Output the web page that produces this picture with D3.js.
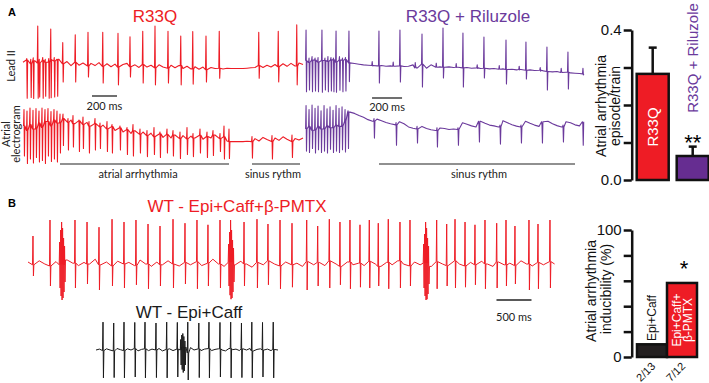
<!DOCTYPE html>
<html>
<head>
<meta charset="utf-8">
<script src="https://cdn.jsdelivr.net/npm/d3@7"></script>
<style>
  body { margin: 0; background: #fff; }
  svg { display: block; }
  text { font-family: "Liberation Sans", Arial, sans-serif; }
  .small { font-family: Lato, "Liberation Sans", sans-serif; font-size: 11px; }
</style>
</head>
<body>
<div class="container"></div>
<script>
// ---------------- data (time in ms, amplitude in normalised units) ----------------

// panel A, R33Q, lead II
const leadRedStep = 32;
const leadRedBase = [0.02,0.08,-0.02,0.06,0.0,0.07,0.02,0.09,0.05,0.1,
  -0.02,0.04,-0.07,0.02,-0.06,0.0,-0.08,-0.01,-0.07,0.01,
  -0.09,-0.02,-0.1,-0.03,-0.11,-0.04,-0.01,-0.1,-0.05,-0.12,
  -0.04,-0.11,-0.06,-0.13,-0.05,-0.11,-0.14,-0.06,-0.13,-0.07,
  -0.15,-0.09,-0.16,-0.1,-0.17,-0.11,-0.18,-0.12,-0.15,-0.14,
  -0.16,-0.14,-0.15,-0.15,-0.15,-0.15,-0.14,-0.13,-0.12,-0.07,
  -0.12,-0.06,-0.11,-0.04,-0.1,-0.02,-0.09,-0.01,-0.08,0.0,-0.04];
// [time, top, bottom]
const leadRedSpikes = [[30,0.12,-0.95],[62,0.1,-0.93],[82,0.14,-0.96],[118,1.0,-0.95],[130,0.1,-0.92],
  [158,0.15,-0.95],[178,0.1,-0.9],[206,0.12,-0.95],[222,0.92,-0.94],[250,0.15,-0.92],[274,0.1,-0.9],
  [318,0.55,-0.51],[418,0.76,-0.51],[520,0.83,-0.38],[638,0.83,-0.54],[760,0.8,-0.59],[856,0.71,-0.38],
  [958,0.86,-0.54],[1056,1.0,-0.59],[1160,0.86,-0.54],[1262,0.73,-0.59],[1358,0.85,-0.57],[1464,0.73,-0.51],
  [1570,0.86,-0.41],[1886,0.83,-0.41],[2042,0.86,-0.51],[2190,1.03,-0.59]];

// panel A, R33Q, atrial electrogram
const egmRedStep = 32;
const egmRedBase = [0.3,0.15,0.35,0.2,0.4,0.25,0.45,0.3,0.5,0.4,
  0.55,0.42,0.5,0.38,0.47,0.35,0.42,0.3,0.38,0.27,
  0.33,0.2,0.28,0.15,0.24,0.1,0.18,0.05,0.14,0.02,
  0.1,-0.02,0.06,-0.06,0.04,-0.08,0.02,-0.1,0.0,-0.12,
  -0.02,-0.13,-0.04,-0.1,-0.01,-0.14,-0.05,-0.1,0.0,-0.12,
  -0.06,-0.2,-0.22,-0.22,-0.22,-0.22,-0.21,-0.22,-0.12,-0.2,
  -0.08,-0.15,-0.22,-0.1,-0.18,-0.06,-0.14,-0.22,-0.12,-0.17,-0.1];
const egmRedSpikes = [[8,0.85,-0.7],[32,0.8,-0.95],[56,0.9,-0.8],[80,0.82,-0.93],[104,0.88,-0.75],
  [128,0.8,-0.9],[152,0.9,-0.85],[176,0.85,-0.95],[200,0.88,-0.7],[224,0.78,-0.88],[248,0.85,-0.8],
  [272,0.8,-0.9],[296,0.7,-0.6],
  [320,0.7,-0.35],[360,0.55,-0.5],[400,0.65,-0.4],[448,0.5,-0.55],[480,0.6,-0.45],[528,0.45,-0.6],
  [576,0.55,-0.5],[616,0.4,-0.45],[672,0.45,-0.55],[712,0.35,-0.6],[776,0.3,-0.5],[832,0.25,-0.65],
  [880,0.35,-0.7],[936,0.2,-0.6],[992,0.15,-0.72],[1048,0.25,-0.65],[1096,0.1,-0.75],[1152,0.2,-0.6],
  [1200,0.15,-0.7],[1256,0.1,-0.78],[1312,0.25,-0.65],[1360,0.05,-0.72],[1416,0.2,-0.6],[1472,0.1,-0.75],
  [1520,0.15,-0.68],[1576,0.05,-0.55],[1608,0.3,-0.8],[1648,0.2,-0.78],
  [1832,-0.05,-0.77],[1992,-0.02,-0.8],[2152,0.0,-0.75]];

// panel A, R33Q + Riluzole, lead II
const leadPurStep = 30;
const leadPurBase = [0.02,-0.03,0.04,-0.02,0.03,0.0,0.05,-0.02,0.04,0.06,
  -0.04,-0.06,-0.08,-0.1,-0.11,-0.12,-0.13,-0.12,-0.14,-0.13,
  -0.14,-0.13,-0.15,-0.14,-0.1,-0.19,-0.08,-0.2,-0.1,-0.17,
  -0.16,-0.17,-0.16,-0.18,-0.17,-0.19,-0.18,-0.2,-0.19,-0.21,
  -0.2,-0.22,-0.21,-0.23,-0.22,-0.24,-0.23,-0.25,-0.24,-0.26,
  -0.25,-0.27,-0.26,-0.28,-0.3,-0.31,-0.3,-0.33,-0.32,-0.34,
  -0.35,-0.36,-0.37];
const leadPurSpikes = [[7,0.94,-0.9],[27,0.1,-0.85],[47,0.15,-0.9],[67,0.1,-0.88],[87,0.12,-0.9],
  [113,0.94,-0.92],[133,0.1,-0.85],[153,0.15,-0.9],[173,0.12,-0.88],[190,0.1,-0.9],[207,0.91,-0.92],
  [230,0.15,-0.86],[250,0.1,-0.9],[270,0.12,-0.88],[293,0.91,-0.6],
  [448,0.0,-0.13],[493,0.91,-0.64],[588,-0.02,-0.14],[633,0.94,-0.61],[735,-0.03,-0.15],[780,0.82,-0.76],
  [875,-0.05,-0.17],[920,1.0,-0.49],[1008,-0.06,-0.18],[1053,0.85,-0.76],[1148,-0.1,-0.21],[1193,0.73,-0.49],
  [1295,-0.12,-0.23],[1340,0.64,-0.67],[1428,-0.14,-0.25],[1473,0.58,-0.52],[1568,-0.18,-0.29],
  [1613,0.43,-0.85],[1708,-0.2,-0.31],[1753,0.28,-0.82],[1853,-0.2,-0.4]];

// panel A, R33Q + Riluzole, atrial electrogram
const egmPurStep = 30;
const egmPurBase = [0.0,0.1,-0.05,0.1,0.0,0.12,0.05,0.15,0.1,0.3,
  0.65,0.6,0.52,0.45,0.36,0.3,0.38,0.32,0.25,0.2,
  0.16,0.28,0.2,0.08,0.03,0.0,0.1,0.02,-0.03,-0.06,
  0.04,0.02,-0.02,0.0,-0.02,0.24,0.18,0.12,0.08,0.3,
  0.22,0.15,0.12,0.08,0.32,0.24,0.16,0.11,0.08,0.3,
  0.22,0.15,0.1,0.28,0.3,0.2,0.13,0.08,0.28,0.24,
  0.16,0.12,0.28];
const egmPurSpikes = [[7,0.9,-0.85],[27,0.75,-0.9],[47,0.92,-0.75],[67,0.8,-0.92],[87,0.88,-0.8],
  [107,0.7,-0.9],[127,0.9,-0.85],[147,0.78,-0.92],[167,0.85,-0.78],[187,0.72,-0.9],[207,0.9,-0.85],
  [227,0.8,-0.9],[247,0.85,-0.8],[267,0.75,-0.88],[287,0.7,-0.75],
  [460,0.4,-0.35],[607,0.25,-0.62],[747,0.1,-0.54],[880,0.05,-0.69],[1020,0.05,-0.62],[1160,0.15,-0.5],
  [1300,0.15,-0.58],[1440,0.15,-0.54],[1580,0.15,-0.54],[1720,0.15,-0.5],[1852,0.2,-0.62]];

// panel B, WT - Epi+Caff+β-PMTX
const bRedStep = 80;
const bRedBase = [-0.05,-0.12,-0.02,-0.1,-0.15,-0.04,-0.12,0.0,-0.08,-0.14,
  -0.06,-0.1,0.02,-0.12,-0.05,-0.15,-0.03,-0.1,-0.06,-0.14,
  0.0,-0.1,-0.16,-0.05,-0.12,-0.02,-0.1,-0.15,-0.06,-0.12,
  -0.04,-0.14,-0.08,0.02,-0.1,-0.16,-0.06,-0.12,-0.03,-0.1,
  -0.18,-0.06,-0.12,-0.02,-0.1,-0.15,-0.05,-0.12,-0.08,-0.16,
  -0.04,-0.12,-0.06,-0.14,-0.02,-0.1,-0.16,-0.05,-0.12,-0.08,
  -0.14,-0.03,-0.1,-0.16,-0.06,-0.12,-0.02,-0.1,-0.15,-0.05,
  -0.12,-0.08,-0.16,-0.04,-0.1,-0.14,-0.02,-0.1,-0.15,-0.06,
  -0.12,-0.03,-0.1,-0.16,-0.05,-0.12,-0.08,-0.14,-0.02,-0.1,
  -0.15,-0.06,-0.12,-0.04,-0.1];
const bRedSpikes = [[71,0.6,-0.4],[314,1.0,-0.65],
  [452,0.45,-0.7],[466,0.75,-0.9],[480,0.95,-1.0],[494,0.8,-0.95],[508,0.55,-0.8],[522,0.35,-0.55],
  [671,1.0,-0.7],[843,0.95,-0.6],[1014,0.82,-0.75],[1200,1.02,-0.65],[1371,0.95,-0.7],[1542,1.0,-0.62],
  [1714,0.9,-0.72],[1885,0.85,-0.65],[2071,1.02,-0.7],[2242,0.92,-0.6],[2413,1.0,-0.72],[2570,0.88,-0.65],
  [2742,1.0,-0.7],
  [2865,0.4,-0.65],[2879,0.7,-0.88],[2893,1.0,-0.98],[2907,0.75,-0.95],[2921,0.5,-0.8],[2935,0.3,-0.55],
  [3085,0.95,-0.65],[3270,1.02,-0.7],[3427,0.9,-0.62],[3599,1.0,-0.72],[3770,0.92,-0.68],[3980,1.0,-0.75],
  [4137,0.85,-0.65],[4303,1.02,-0.7],[4455,0.95,-0.62],[4598,1.0,-0.72],[4741,0.88,-0.68],[4874,1.0,-0.7],
  [5002,0.92,-0.65],[5145,1.02,-0.72],[5312,0.95,-0.7],[5455,1.0,-0.65],
  [5650,0.4,-0.7],[5664,0.65,-0.9],[5678,0.95,-1.0],[5692,0.8,-0.98],[5706,0.55,-0.85],[5720,0.35,-0.6],
  [5836,1.0,-0.72],[5979,0.9,-0.65],[6098,1.02,-0.7],[6241,0.95,-0.68],[6383,0.88,-0.62],[6526,1.0,-0.72],
  [6693,0.92,-0.7],[6826,1.0,-0.65],[6954,0.85,-0.6],[7154,1.0,-0.75],[7283,0.9,-0.72],[7454,1.0,-0.7]];

// panel B, WT - Epi+Caff
const bBlackStep = 50;
const bBlackBase = [0.0,0.03,-0.02,0.04,0.0,-0.03,0.05,0.01,-0.02,0.04,
  0.0,0.05,-0.03,0.02,0.04,-0.02,0.03,0.0,0.05,-0.03,
  0.02,0.04,-0.02,0.03,0.0,0.1,-0.1,0.08,0.0,0.04,
  -0.02,0.03,0.05,-0.02,0.02,0.04,0.0,-0.03,0.05,0.01,
  0.03,-0.02,0.04,0.0,0.05,-0.03,0.02,0.04,0.0,0.03,
  -0.02,0.02,0.0];
const bBlackSpikes = [[100,0.93,-0.93],[253,0.9,-0.92],[400,0.93,-0.93],[554,0.92,-0.9],[700,0.93,-0.93],
  [857,0.9,-0.92],[1010,0.93,-0.93],[1162,0.92,-0.9],
  [1210,0.35,-0.5],[1225,0.5,-0.65],[1240,0.55,-0.75],[1255,0.45,-0.7],[1270,0.3,-0.5],
  [1311,0.93,-1.0],[1469,0.9,-0.92],[1614,0.93,-0.93],[1771,0.92,-0.9],[1924,0.93,-0.93],
  [2078,0.9,-0.92],[2226,0.93,-0.93],[2379,0.92,-0.9],[2532,0.93,-0.93]];

// bar charts
const barACats = ["R33Q", "R33Q + Riluzole"];
const barAValues = [0.283, 0.064];
const barAErrors = [0.07, 0.025];
const barATicks = [0, 0.1, 0.2, 0.3, 0.4];

const barBCats = ["Epi+Caff", "Epi+Caff+β-PMTX"];
const barBValues = [10, 58.3];
const barBCounts = ["2/13", "7/12"];
const barBTicks = [0, 20, 40, 60, 80, 100];

// ---------------- drawing ----------------
const width = 709;
const height = 383;
const red = "#ee1c25";
const purple = "#6b3a9c";

const svg = d3.select(".container")
  .append("svg")
  .attr("width", width)
  .attr("height", height);

// builds one trace path from baseline samples plus vertical spikes
function tracePath(base, step, spikes, x, y) {
  const half = (x.domain()[1] - x.domain()[0]) / (x.range()[1] - x.range()[0]) * 0.45;
  const pts = base.map((v, i) => [i * step, v])
    .filter(p => !spikes.some(s => Math.abs(s[0] - p[0]) < half * 3));
  spikes.forEach(s => {
    const b = base[Math.min(base.length - 1, Math.round(s[0] / step))];
    pts.push([s[0] - half, b], [s[0], s[1]], [s[0] + half, s[2]], [s[0] + 2 * half, b]);
  });
  pts.sort((a, b) => a[0] - b[0]);
  return d3.line().x(d => x(d[0])).y(d => y(d[1]))(pts);
}

function drawTrace(base, step, spikes, x, y, color, sw) {
  svg.append("path")
    .attr("d", tracePath(base, step, spikes, x, y))
    .attr("fill", "none")
    .attr("stroke", color)
    .attr("stroke-width", sw || 1.1)
    .attr("stroke-linejoin", "round");
}

// scale bar helper: length in ms drawn with the trace's own x scale
function scaleBar(x, t0, ms, yPos, label, labelY) {
  svg.append("line")
    .attr("x1", x(t0)).attr("x2", x(t0 + ms))
    .attr("y1", yPos).attr("y2", yPos)
    .attr("stroke", "#222").attr("stroke-width", 1.3);
  svg.append("text").attr("class", "small")
    .attr("x", (x(t0) + x(t0 + ms)) / 2).attr("y", labelY)
    .attr("text-anchor", "middle").attr("fill", "#222")
    .text(label);
}

function rotText(x, y, txt, size, color, anchor) {
  return svg.append("text")
    .attr("transform", `translate(${x},${y}) rotate(-90)`)
    .attr("text-anchor", anchor || "middle")
    .attr("font-size", size)
    .attr("fill", color)
    .text(txt);
}

// ---- panel A traces ----
const xRed = d3.scaleLinear().domain([0, 2240]).range([23, 303]);
const xPur = d3.scaleLinear().domain([0, 1860]).range([305, 584]);
const yLeadRed = d3.scaleLinear().domain([-1, 1]).range([100, 26]);
const yEgmRed = d3.scaleLinear().domain([-1, 1]).range([165, 105]);
const yLeadPur = d3.scaleLinear().domain([-1, 1]).range([95, 28]);
const yEgmPur = d3.scaleLinear().domain([-1, 1]).range([155, 103]);

drawTrace(leadRedBase, leadRedStep, leadRedSpikes, xRed, yLeadRed, red);
drawTrace(egmRedBase, egmRedStep, egmRedSpikes, xRed, yEgmRed, red);
drawTrace(leadPurBase, leadPurStep, leadPurSpikes, xPur, yLeadPur, purple);
drawTrace(egmPurBase, egmPurStep, egmPurSpikes, xPur, yEgmPur, purple);

svg.append("text").attr("x", 8).attr("y", 16).attr("font-size", 11).attr("font-weight", "bold").text("A");
svg.append("text").attr("x", 155).attr("y", 22).attr("font-size", 17).attr("fill", red)
  .attr("text-anchor", "middle").text("R33Q");
svg.append("text").attr("x", 468).attr("y", 22).attr("font-size", 17).attr("fill", purple)
  .attr("text-anchor", "middle").text("R33Q + Riluzole");

rotText(15, 66, "Lead II", 11, "#222").attr("class", "small");
rotText(10, 134, "Atrial", 11, "#222").attr("class", "small");
rotText(20, 134, "electrogram", 11, "#222").attr("class", "small");

scaleBar(xRed, 552, 200, 96, "200 ms", 110);
scaleBar(xPur, 447, 200, 98, "200 ms", 111);

// rhythm annotations
function annot(x1, x2, label, lx) {
  svg.append("line").attr("x1", x1).attr("x2", x2).attr("y1", 164).attr("y2", 164)
    .attr("stroke", "#222").attr("stroke-width", 1.2);
  svg.append("text").attr("class", "small").attr("x", lx).attr("y", 178)
    .attr("text-anchor", "middle").attr("fill", "#222").text(label);
}
annot(xRed(296), xRed(1648), "atrial arrhythmia", 138);
annot(xRed(1832), xRed(2216), "sinus rythm", 273);
annot(xPur(493), xPur(1800), "sinus rythm", 479);

// ---- panel A bar chart ----
const xA = d3.scaleBand().domain(barACats).range([636.7, 708.7]).paddingInner(0.2).paddingOuter(0);
const yA = d3.scaleLinear().domain([0, 0.4]).range([180, 30]);

svg.append("g")
  .attr("transform", "translate(631.7,0)")
  .call(d3.axisLeft(yA).tickValues(barATicks).tickSize(8).tickSizeOuter(0).tickPadding(2)
    .tickFormat(d => (d === 0 || d === 0.4) ? d3.format(".1f")(d) : ""))
  .call(g => g.selectAll("path,line").attr("stroke", "#111").attr("stroke-width", 2.5))
  .call(g => g.selectAll("text").attr("font-size", 15).attr("fill", "#111")
    .attr("font-family", "Liberation Sans, Arial, sans-serif"));

svg.append("g").selectAll("line.err")
  .data(barACats).join("line")
  .attr("x1", d => xA(d) + xA.bandwidth() / 2).attr("x2", d => xA(d) + xA.bandwidth() / 2)
  .attr("y1", (d, i) => yA(barAValues[i])).attr("y2", (d, i) => yA(barAValues[i] + barAErrors[i]))
  .attr("stroke", "#111").attr("stroke-width", 2.5);
svg.append("g").selectAll("line.cap")
  .data(barACats).join("line")
  .attr("x1", d => xA(d) + xA.bandwidth() / 2 - 4).attr("x2", d => xA(d) + xA.bandwidth() / 2 + 4)
  .attr("y1", (d, i) => yA(barAValues[i] + barAErrors[i])).attr("y2", (d, i) => yA(barAValues[i] + barAErrors[i]))
  .attr("stroke", "#111").attr("stroke-width", 2.5);
svg.append("g").selectAll("rect")
  .data(barACats).join("rect")
  .attr("x", d => xA(d)).attr("width", xA.bandwidth())
  .attr("y", (d, i) => yA(barAValues[i])).attr("height", (d, i) => yA(0) - yA(barAValues[i]))
  .attr("fill", (d, i) => i === 0 ? red : "#662d91")
  .attr("stroke", "#111").attr("stroke-width", 2.5);

rotText(xA(barACats[0]) + xA.bandwidth() / 2 + 5, 127, "R33Q", 15, "#fff");
rotText(xA(barACats[1]) + xA.bandwidth() / 2 + 5, 58, "R33Q + Riluzole", 15, purple);
svg.append("text").attr("x", xA(barACats[1]) + xA.bandwidth() / 2).attr("y", 150)
  .attr("text-anchor", "middle").attr("font-size", 22).text("**");
rotText(606, 106, "Atrial arrhythmia", 14, "#111");
rotText(620, 106, "episode/train", 14, "#111");

// ---- panel B traces ----
const xB = d3.scaleLinear().domain([0, 7540]).range([28, 556]);
const yB = d3.scaleLinear().domain([-1, 1]).range([300, 220]);
const xBk = d3.scaleLinear().domain([0, 2600]).range([96, 278]);
const yBk = d3.scaleLinear().domain([-1, 1]).range([380, 320]);

drawTrace(bRedBase, bRedStep, bRedSpikes, xB, yB, red, 1);
drawTrace(bBlackBase, bBlackStep, bBlackSpikes, xBk, yBk, "#1a1a1a", 1);

svg.append("text").attr("x", 8).attr("y", 207).attr("font-size", 11).attr("font-weight", "bold").text("B");
svg.append("text").attr("x", 237).attr("y", 212).attr("font-size", 17).attr("fill", red)
  .attr("text-anchor", "middle").text("WT - Epi+Caff+β-PMTX");
svg.append("text").attr("x", 189).attr("y", 318).attr("font-size", 17).attr("fill", "#1a1a1a")
  .attr("text-anchor", "middle").text("WT - Epi+Caff");
scaleBar(xB, 6690, 500, 300, "500 ms", 321);

// ---- panel B bar chart ----
const xBb = d3.scaleBand().domain(barBCats).range([637, 697]).paddingInner(0).paddingOuter(0);
const yBb = d3.scaleLinear().domain([0, 100]).range([357, 230]);

svg.append("g")
  .attr("transform", "translate(631.7,0)")
  .call(d3.axisLeft(yBb).tickValues(barBTicks).tickSize(8).tickSizeOuter(0).tickPadding(2)
    .tickFormat(d => (d === 0 || d === 100) ? d : ""))
  .call(g => g.selectAll("path,line").attr("stroke", "#111").attr("stroke-width", 2.5))
  .call(g => g.selectAll("text").attr("font-size", 15).attr("fill", "#111")
    .attr("font-family", "Liberation Sans, Arial, sans-serif"));

svg.append("g").selectAll("rect")
  .data(barBCats).join("rect")
  .attr("x", d => xBb(d)).attr("width", xBb.bandwidth())
  .attr("y", (d, i) => yBb(barBValues[i])).attr("height", (d, i) => yBb(0) - yBb(barBValues[i]))
  .attr("fill", (d, i) => i === 0 ? "#231f20" : red)
  .attr("stroke", "#111").attr("stroke-width", 2.5);

rotText(xBb(barBCats[0]) + xBb.bandwidth() / 2 + 4, 318, "Epi+Caff", 12, "#111");
rotText(xBb(barBCats[1]) + xBb.bandwidth() / 2 - 1, 320, "Epi+Caff+", 12, "#fff");
rotText(xBb(barBCats[1]) + xBb.bandwidth() / 2 + 10, 320, "β-PMTX", 12, "#fff");
svg.append("text").attr("x", xBb(barBCats[1]) + xBb.bandwidth() / 2 + 2).attr("y", 276)
  .attr("text-anchor", "middle").attr("font-size", 22).text("*");
barBCats.forEach((c, i) => {
  svg.append("text")
    .attr("transform", `translate(${xBb(c) + xBb.bandwidth() / 2 + 4},${367}) rotate(-45)`)
    .attr("text-anchor", "end").attr("font-size", 11).attr("fill", "#111")
    .text(barBCounts[i]);
});
rotText(596, 291, "Atrial arrhythmia", 14, "#111");
rotText(611, 289, "inducibility (%)", 14, "#111");
</script>
</body>
</html>
